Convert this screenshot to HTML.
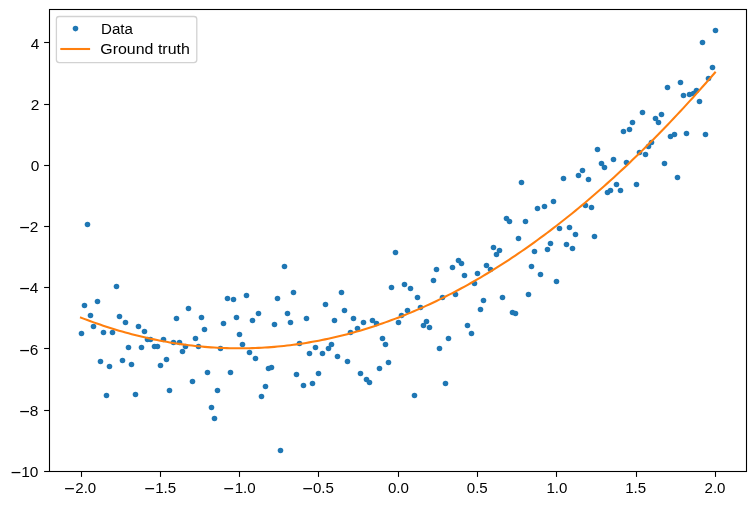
<!DOCTYPE html>
<html><head><meta charset="utf-8"><title>plot</title>
<style>html,body{margin:0;padding:0;background:#fff}body{width:756px;height:505px;overflow:hidden}svg{display:block;will-change:transform}text{font-family:"Liberation Sans",sans-serif;fill:#000}</style></head><body>
<svg width="756" height="505" viewBox="0 0 756 505">
<rect x="0" y="0" width="756" height="505" fill="#fff"/>
<g fill="#1f77b4">
<circle cx="81.5" cy="333.5" r="2.78"/>
<circle cx="84.5" cy="305.5" r="2.78"/>
<circle cx="87.5" cy="224.5" r="2.78"/>
<circle cx="90.5" cy="315.5" r="2.78"/>
<circle cx="93.5" cy="326.5" r="2.78"/>
<circle cx="97.5" cy="301.5" r="2.78"/>
<circle cx="100.5" cy="361.5" r="2.78"/>
<circle cx="103.5" cy="332.5" r="2.78"/>
<circle cx="106.5" cy="395.5" r="2.78"/>
<circle cx="109.5" cy="366.5" r="2.78"/>
<circle cx="112.5" cy="332.5" r="2.78"/>
<circle cx="116.5" cy="286.5" r="2.78"/>
<circle cx="119.5" cy="316.5" r="2.78"/>
<circle cx="122.5" cy="360.5" r="2.78"/>
<circle cx="125.5" cy="322.5" r="2.78"/>
<circle cx="128.5" cy="347.5" r="2.78"/>
<circle cx="131.5" cy="364.5" r="2.78"/>
<circle cx="135.5" cy="394.5" r="2.78"/>
<circle cx="138.5" cy="326.5" r="2.78"/>
<circle cx="141.5" cy="347.5" r="2.78"/>
<circle cx="144.5" cy="331.5" r="2.78"/>
<circle cx="147.5" cy="339.5" r="2.78"/>
<circle cx="150.5" cy="339.5" r="2.78"/>
<circle cx="154.5" cy="346.5" r="2.78"/>
<circle cx="157.5" cy="346.5" r="2.78"/>
<circle cx="160.5" cy="365.5" r="2.78"/>
<circle cx="163.5" cy="339.5" r="2.78"/>
<circle cx="166.5" cy="359.5" r="2.78"/>
<circle cx="169.5" cy="390.5" r="2.78"/>
<circle cx="173.5" cy="342.5" r="2.78"/>
<circle cx="176.5" cy="318.5" r="2.78"/>
<circle cx="179.5" cy="342.5" r="2.78"/>
<circle cx="182.5" cy="351.5" r="2.78"/>
<circle cx="185.5" cy="346.5" r="2.78"/>
<circle cx="188.5" cy="308.5" r="2.78"/>
<circle cx="192.5" cy="381.5" r="2.78"/>
<circle cx="195.5" cy="338.5" r="2.78"/>
<circle cx="198.5" cy="346.5" r="2.78"/>
<circle cx="201.5" cy="317.5" r="2.78"/>
<circle cx="204.5" cy="329.5" r="2.78"/>
<circle cx="207.5" cy="372.5" r="2.78"/>
<circle cx="211.5" cy="407.5" r="2.78"/>
<circle cx="214.5" cy="418.5" r="2.78"/>
<circle cx="217.5" cy="390.5" r="2.78"/>
<circle cx="220.5" cy="348.5" r="2.78"/>
<circle cx="223.5" cy="323.5" r="2.78"/>
<circle cx="227.5" cy="298.5" r="2.78"/>
<circle cx="230.5" cy="372.5" r="2.78"/>
<circle cx="233.5" cy="299.5" r="2.78"/>
<circle cx="236.5" cy="317.5" r="2.78"/>
<circle cx="239.5" cy="334.5" r="2.78"/>
<circle cx="242.5" cy="344.5" r="2.78"/>
<circle cx="246.5" cy="295.5" r="2.78"/>
<circle cx="249.5" cy="352.5" r="2.78"/>
<circle cx="252.5" cy="320.5" r="2.78"/>
<circle cx="255.5" cy="358.5" r="2.78"/>
<circle cx="258.5" cy="313.5" r="2.78"/>
<circle cx="261.5" cy="396.5" r="2.78"/>
<circle cx="265.5" cy="386.5" r="2.78"/>
<circle cx="268.5" cy="368.5" r="2.78"/>
<circle cx="271.5" cy="367.5" r="2.78"/>
<circle cx="274.5" cy="324.5" r="2.78"/>
<circle cx="277.5" cy="298.5" r="2.78"/>
<circle cx="280.5" cy="450.5" r="2.78"/>
<circle cx="284.5" cy="266.5" r="2.78"/>
<circle cx="287.5" cy="313.5" r="2.78"/>
<circle cx="290.5" cy="322.5" r="2.78"/>
<circle cx="293.5" cy="292.5" r="2.78"/>
<circle cx="296.5" cy="374.5" r="2.78"/>
<circle cx="299.5" cy="343.5" r="2.78"/>
<circle cx="303.5" cy="385.5" r="2.78"/>
<circle cx="306.5" cy="318.5" r="2.78"/>
<circle cx="309.5" cy="353.5" r="2.78"/>
<circle cx="312.5" cy="383.5" r="2.78"/>
<circle cx="315.5" cy="347.5" r="2.78"/>
<circle cx="318.5" cy="373.5" r="2.78"/>
<circle cx="322.5" cy="353.5" r="2.78"/>
<circle cx="325.5" cy="304.5" r="2.78"/>
<circle cx="328.5" cy="348.5" r="2.78"/>
<circle cx="331.5" cy="344.5" r="2.78"/>
<circle cx="334.5" cy="320.5" r="2.78"/>
<circle cx="337.5" cy="356.5" r="2.78"/>
<circle cx="341.5" cy="292.5" r="2.78"/>
<circle cx="344.5" cy="310.5" r="2.78"/>
<circle cx="347.5" cy="361.5" r="2.78"/>
<circle cx="350.5" cy="332.5" r="2.78"/>
<circle cx="353.5" cy="318.5" r="2.78"/>
<circle cx="357.5" cy="328.5" r="2.78"/>
<circle cx="360.5" cy="373.5" r="2.78"/>
<circle cx="363.5" cy="322.5" r="2.78"/>
<circle cx="366.5" cy="379.5" r="2.78"/>
<circle cx="369.5" cy="382.5" r="2.78"/>
<circle cx="372.5" cy="320.5" r="2.78"/>
<circle cx="376.5" cy="323.5" r="2.78"/>
<circle cx="379.5" cy="368.5" r="2.78"/>
<circle cx="382.5" cy="338.5" r="2.78"/>
<circle cx="385.5" cy="344.5" r="2.78"/>
<circle cx="388.5" cy="362.5" r="2.78"/>
<circle cx="391.5" cy="287.5" r="2.78"/>
<circle cx="395.5" cy="252.5" r="2.78"/>
<circle cx="398.5" cy="322.5" r="2.78"/>
<circle cx="401.5" cy="315.5" r="2.78"/>
<circle cx="404.5" cy="284.5" r="2.78"/>
<circle cx="407.5" cy="310.5" r="2.78"/>
<circle cx="410.5" cy="288.5" r="2.78"/>
<circle cx="414.5" cy="395.5" r="2.78"/>
<circle cx="417.5" cy="297.5" r="2.78"/>
<circle cx="420.5" cy="307.5" r="2.78"/>
<circle cx="423.5" cy="325.5" r="2.78"/>
<circle cx="426.5" cy="321.5" r="2.78"/>
<circle cx="429.5" cy="327.5" r="2.78"/>
<circle cx="433.5" cy="280.5" r="2.78"/>
<circle cx="436.5" cy="269.5" r="2.78"/>
<circle cx="439.5" cy="348.5" r="2.78"/>
<circle cx="442.5" cy="297.5" r="2.78"/>
<circle cx="445.5" cy="383.5" r="2.78"/>
<circle cx="448.5" cy="338.5" r="2.78"/>
<circle cx="452.5" cy="267.5" r="2.78"/>
<circle cx="455.5" cy="294.5" r="2.78"/>
<circle cx="458.5" cy="260.5" r="2.78"/>
<circle cx="461.5" cy="263.5" r="2.78"/>
<circle cx="464.5" cy="275.5" r="2.78"/>
<circle cx="467.5" cy="325.5" r="2.78"/>
<circle cx="471.5" cy="333.5" r="2.78"/>
<circle cx="474.5" cy="283.5" r="2.78"/>
<circle cx="477.5" cy="273.5" r="2.78"/>
<circle cx="480.5" cy="309.5" r="2.78"/>
<circle cx="483.5" cy="300.5" r="2.78"/>
<circle cx="486.5" cy="265.5" r="2.78"/>
<circle cx="490.5" cy="269.5" r="2.78"/>
<circle cx="493.5" cy="247.5" r="2.78"/>
<circle cx="496.5" cy="254.5" r="2.78"/>
<circle cx="499.5" cy="250.5" r="2.78"/>
<circle cx="502.5" cy="297.5" r="2.78"/>
<circle cx="506.5" cy="218.5" r="2.78"/>
<circle cx="509.5" cy="221.5" r="2.78"/>
<circle cx="512.5" cy="312.5" r="2.78"/>
<circle cx="515.5" cy="313.5" r="2.78"/>
<circle cx="518.5" cy="238.5" r="2.78"/>
<circle cx="521.5" cy="182.5" r="2.78"/>
<circle cx="525.5" cy="221.5" r="2.78"/>
<circle cx="528.5" cy="294.5" r="2.78"/>
<circle cx="531.5" cy="266.5" r="2.78"/>
<circle cx="534.5" cy="251.5" r="2.78"/>
<circle cx="537.5" cy="208.5" r="2.78"/>
<circle cx="540.5" cy="274.5" r="2.78"/>
<circle cx="544.5" cy="206.5" r="2.78"/>
<circle cx="547.5" cy="249.5" r="2.78"/>
<circle cx="550.5" cy="243.5" r="2.78"/>
<circle cx="553.5" cy="201.5" r="2.78"/>
<circle cx="556.5" cy="281.5" r="2.78"/>
<circle cx="559.5" cy="228.5" r="2.78"/>
<circle cx="563.5" cy="178.5" r="2.78"/>
<circle cx="566.5" cy="244.5" r="2.78"/>
<circle cx="569.5" cy="227.5" r="2.78"/>
<circle cx="572.5" cy="248.5" r="2.78"/>
<circle cx="575.5" cy="234.5" r="2.78"/>
<circle cx="578.5" cy="175.5" r="2.78"/>
<circle cx="582.5" cy="170.5" r="2.78"/>
<circle cx="585.5" cy="205.5" r="2.78"/>
<circle cx="588.5" cy="179.5" r="2.78"/>
<circle cx="591.5" cy="207.5" r="2.78"/>
<circle cx="594.5" cy="236.5" r="2.78"/>
<circle cx="597.5" cy="149.5" r="2.78"/>
<circle cx="601.5" cy="163.5" r="2.78"/>
<circle cx="604.5" cy="167.5" r="2.78"/>
<circle cx="607.5" cy="192.5" r="2.78"/>
<circle cx="610.5" cy="190.5" r="2.78"/>
<circle cx="613.5" cy="159.5" r="2.78"/>
<circle cx="616.5" cy="184.5" r="2.78"/>
<circle cx="620.5" cy="190.5" r="2.78"/>
<circle cx="623.5" cy="131.5" r="2.78"/>
<circle cx="626.5" cy="162.5" r="2.78"/>
<circle cx="629.5" cy="129.5" r="2.78"/>
<circle cx="632.5" cy="122.5" r="2.78"/>
<circle cx="636.5" cy="184.5" r="2.78"/>
<circle cx="639.5" cy="152.5" r="2.78"/>
<circle cx="642.5" cy="112.5" r="2.78"/>
<circle cx="645.5" cy="154.5" r="2.78"/>
<circle cx="648.5" cy="146.5" r="2.78"/>
<circle cx="651.5" cy="142.5" r="2.78"/>
<circle cx="655.5" cy="118.5" r="2.78"/>
<circle cx="658.5" cy="122.5" r="2.78"/>
<circle cx="661.5" cy="114.5" r="2.78"/>
<circle cx="664.5" cy="163.5" r="2.78"/>
<circle cx="667.5" cy="87.5" r="2.78"/>
<circle cx="670.5" cy="136.5" r="2.78"/>
<circle cx="674.5" cy="134.5" r="2.78"/>
<circle cx="677.5" cy="177.5" r="2.78"/>
<circle cx="680.5" cy="82.5" r="2.78"/>
<circle cx="683.5" cy="95.5" r="2.78"/>
<circle cx="686.5" cy="133.5" r="2.78"/>
<circle cx="689.5" cy="94.5" r="2.78"/>
<circle cx="693.5" cy="93.5" r="2.78"/>
<circle cx="696.5" cy="90.5" r="2.78"/>
<circle cx="699.5" cy="101.5" r="2.78"/>
<circle cx="702.5" cy="42.5" r="2.78"/>
<circle cx="705.5" cy="134.5" r="2.78"/>
<circle cx="708.5" cy="78.5" r="2.78"/>
<circle cx="712.5" cy="67.5" r="2.78"/>
<circle cx="715.5" cy="30.5" r="2.78"/>
</g>
<polyline points="81.00,317.69 84.17,318.90 87.34,320.09 90.51,321.25 93.68,322.39 96.85,323.51 100.02,324.60 103.19,325.66 106.36,326.71 109.53,327.72 112.70,328.72 115.87,329.68 119.04,330.63 122.21,331.55 125.38,332.44 128.55,333.31 131.72,334.16 134.89,334.98 138.06,335.78 141.23,336.55 144.40,337.30 147.57,338.02 150.74,338.72 153.91,339.39 157.08,340.04 160.25,340.67 163.42,341.27 166.59,341.84 169.76,342.40 172.93,342.92 176.10,343.43 179.27,343.90 182.44,344.36 185.61,344.79 188.78,345.19 191.95,345.57 195.12,345.93 198.29,346.26 201.46,346.56 204.63,346.84 207.80,347.10 210.97,347.34 214.14,347.54 217.31,347.73 220.48,347.89 223.65,348.02 226.82,348.13 229.99,348.22 233.16,348.28 236.33,348.32 239.50,348.33 242.67,348.32 245.84,348.28 249.01,348.22 252.18,348.13 255.35,348.02 258.52,347.89 261.69,347.73 264.86,347.54 268.03,347.34 271.20,347.10 274.37,346.84 277.54,346.56 280.71,346.26 283.88,345.93 287.05,345.57 290.22,345.19 293.39,344.79 296.56,344.36 299.73,343.90 302.90,343.43 306.07,342.92 309.24,342.40 312.41,341.84 315.58,341.27 318.75,340.67 321.92,340.04 325.09,339.39 328.26,338.72 331.43,338.02 334.60,337.30 337.77,336.55 340.94,335.78 344.11,334.98 347.28,334.16 350.45,333.31 353.62,332.44 356.79,331.55 359.96,330.63 363.13,329.68 366.30,328.72 369.47,327.72 372.64,326.71 375.81,325.66 378.98,324.60 382.15,323.51 385.32,322.39 388.49,321.25 391.66,320.09 394.83,318.90 398.00,317.69 401.17,316.45 404.34,315.18 407.51,313.90 410.68,312.59 413.85,311.25 417.02,309.89 420.19,308.50 423.36,307.09 426.53,305.66 429.70,304.20 432.87,302.72 436.04,301.21 439.21,299.68 442.38,298.12 445.55,296.54 448.72,294.94 451.89,293.31 455.06,291.65 458.23,289.97 461.40,288.27 464.57,286.54 467.74,284.79 470.91,283.01 474.08,281.21 477.25,279.38 480.42,277.53 483.59,275.66 486.76,273.76 489.93,271.83 493.10,269.88 496.27,267.91 499.44,265.91 502.61,263.89 505.78,261.84 508.95,259.77 512.12,257.67 515.29,255.55 518.46,253.41 521.63,251.24 524.80,249.04 527.97,246.83 531.14,244.58 534.31,242.32 537.48,240.02 540.65,237.71 543.82,235.37 546.99,233.00 550.16,230.61 553.33,228.20 556.50,225.76 559.67,223.29 562.84,220.80 566.01,218.29 569.18,215.75 572.35,213.19 575.52,210.61 578.69,208.00 581.86,205.36 585.03,202.70 588.20,200.02 591.37,197.31 594.54,194.57 597.71,191.82 600.88,189.03 604.05,186.23 607.22,183.40 610.39,180.54 613.56,177.66 616.73,174.75 619.90,171.82 623.07,168.87 626.24,165.89 629.41,162.89 632.58,159.86 635.75,156.81 638.92,153.73 642.09,150.63 645.26,147.51 648.43,144.36 651.60,141.18 654.77,137.98 657.94,134.76 661.11,131.51 664.28,128.24 667.45,124.94 670.62,121.62 673.79,118.27 676.96,114.90 680.13,111.51 683.30,108.09 686.47,104.64 689.64,101.17 692.81,97.68 695.98,94.16 699.15,90.62 702.32,87.05 705.49,83.46 708.66,79.85 711.83,76.21 715.00,72.54" fill="none" stroke="#ff7f0e" stroke-width="2.08" stroke-linecap="square" stroke-linejoin="round"/>
<rect x="49.5" y="9.5" width="697.0" height="462.0" fill="none" stroke="#000" stroke-width="1.1"/>
<g stroke="#000" stroke-width="1.1">
<line x1="81.5" y1="471.5" x2="81.5" y2="476.9"/>
<line x1="160.5" y1="471.5" x2="160.5" y2="476.9"/>
<line x1="239.5" y1="471.5" x2="239.5" y2="476.9"/>
<line x1="318.5" y1="471.5" x2="318.5" y2="476.9"/>
<line x1="398.5" y1="471.5" x2="398.5" y2="476.9"/>
<line x1="477.5" y1="471.5" x2="477.5" y2="476.9"/>
<line x1="556.5" y1="471.5" x2="556.5" y2="476.9"/>
<line x1="636.5" y1="471.5" x2="636.5" y2="476.9"/>
<line x1="715.5" y1="471.5" x2="715.5" y2="476.9"/>
<line x1="49.5" y1="471.5" x2="44.1" y2="471.5"/>
<line x1="49.5" y1="410.5" x2="44.1" y2="410.5"/>
<line x1="49.5" y1="348.5" x2="44.1" y2="348.5"/>
<line x1="49.5" y1="287.5" x2="44.1" y2="287.5"/>
<line x1="49.5" y1="226.5" x2="44.1" y2="226.5"/>
<line x1="49.5" y1="165.5" x2="44.1" y2="165.5"/>
<line x1="49.5" y1="104.5" x2="44.1" y2="104.5"/>
<line x1="49.5" y1="42.5" x2="44.1" y2="42.5"/>
</g>
<g font-size="14">
<rect x="65.10" y="488.05" width="8.8" height="1.25" fill="#000"/><text x="75.25" y="493.00" textLength="21.00" lengthAdjust="spacingAndGlyphs">2.0</text>
<rect x="145.28" y="488.05" width="8.8" height="1.25" fill="#000"/><text x="155.20" y="493.00" textLength="21.00" lengthAdjust="spacingAndGlyphs">1.5</text>
<rect x="224.30" y="488.05" width="8.8" height="1.25" fill="#000"/><text x="234.70" y="493.00" textLength="21.00" lengthAdjust="spacingAndGlyphs">1.0</text>
<rect x="303.30" y="488.05" width="8.8" height="1.25" fill="#000"/><text x="312.95" y="493.00" textLength="21.00" lengthAdjust="spacingAndGlyphs">0.5</text>
<text x="387.95" y="493.00" textLength="21.00" lengthAdjust="spacingAndGlyphs">0.0</text>
<text x="466.76" y="493.00" textLength="21.00" lengthAdjust="spacingAndGlyphs">0.5</text>
<text x="546.40" y="493.00" textLength="21.00" lengthAdjust="spacingAndGlyphs">1.0</text>
<text x="625.20" y="493.00" textLength="21.00" lengthAdjust="spacingAndGlyphs">1.5</text>
<text x="704.50" y="493.00" textLength="21.00" lengthAdjust="spacingAndGlyphs">2.0</text>
<rect x="11.60" y="471.95" width="8.8" height="1.25" fill="#000"/><text x="21.15" y="476.90" textLength="17.20" lengthAdjust="spacingAndGlyphs">10</text>
<rect x="20.20" y="410.95" width="8.8" height="1.25" fill="#000"/><text x="29.75" y="415.90" textLength="8.60" lengthAdjust="spacingAndGlyphs">8</text>
<rect x="20.20" y="349.95" width="8.8" height="1.25" fill="#000"/><text x="29.75" y="354.90" textLength="8.60" lengthAdjust="spacingAndGlyphs">6</text>
<rect x="20.20" y="287.95" width="8.8" height="1.25" fill="#000"/><text x="29.75" y="292.90" textLength="8.60" lengthAdjust="spacingAndGlyphs">4</text>
<rect x="20.20" y="226.95" width="8.8" height="1.25" fill="#000"/><text x="29.75" y="231.90" textLength="8.60" lengthAdjust="spacingAndGlyphs">2</text>
<text x="30.75" y="170.90" textLength="8.60" lengthAdjust="spacingAndGlyphs">0</text>
<text x="30.75" y="109.90" textLength="8.60" lengthAdjust="spacingAndGlyphs">2</text>
<text x="30.75" y="48.90" textLength="8.60" lengthAdjust="spacingAndGlyphs">4</text>
</g>
<rect x="56.4" y="16.5" width="140.4" height="46.1" rx="2.8" ry="2.8" fill="#fff" fill-opacity="0.8" stroke="#d2d2d2" stroke-width="1.3"/>
<circle cx="75.5" cy="28.6" r="2.78" fill="#1f77b4"/>
<line x1="60.3" y1="49.0" x2="90.1" y2="49.0" stroke="#ff7f0e" stroke-width="2.08"/>
<text x="101.0" y="34.0" font-size="14" textLength="31.9" lengthAdjust="spacingAndGlyphs">Data</text>
<text x="100.3" y="54.0" font-size="14" textLength="89.5" lengthAdjust="spacingAndGlyphs">Ground truth</text>
</svg></body></html>
